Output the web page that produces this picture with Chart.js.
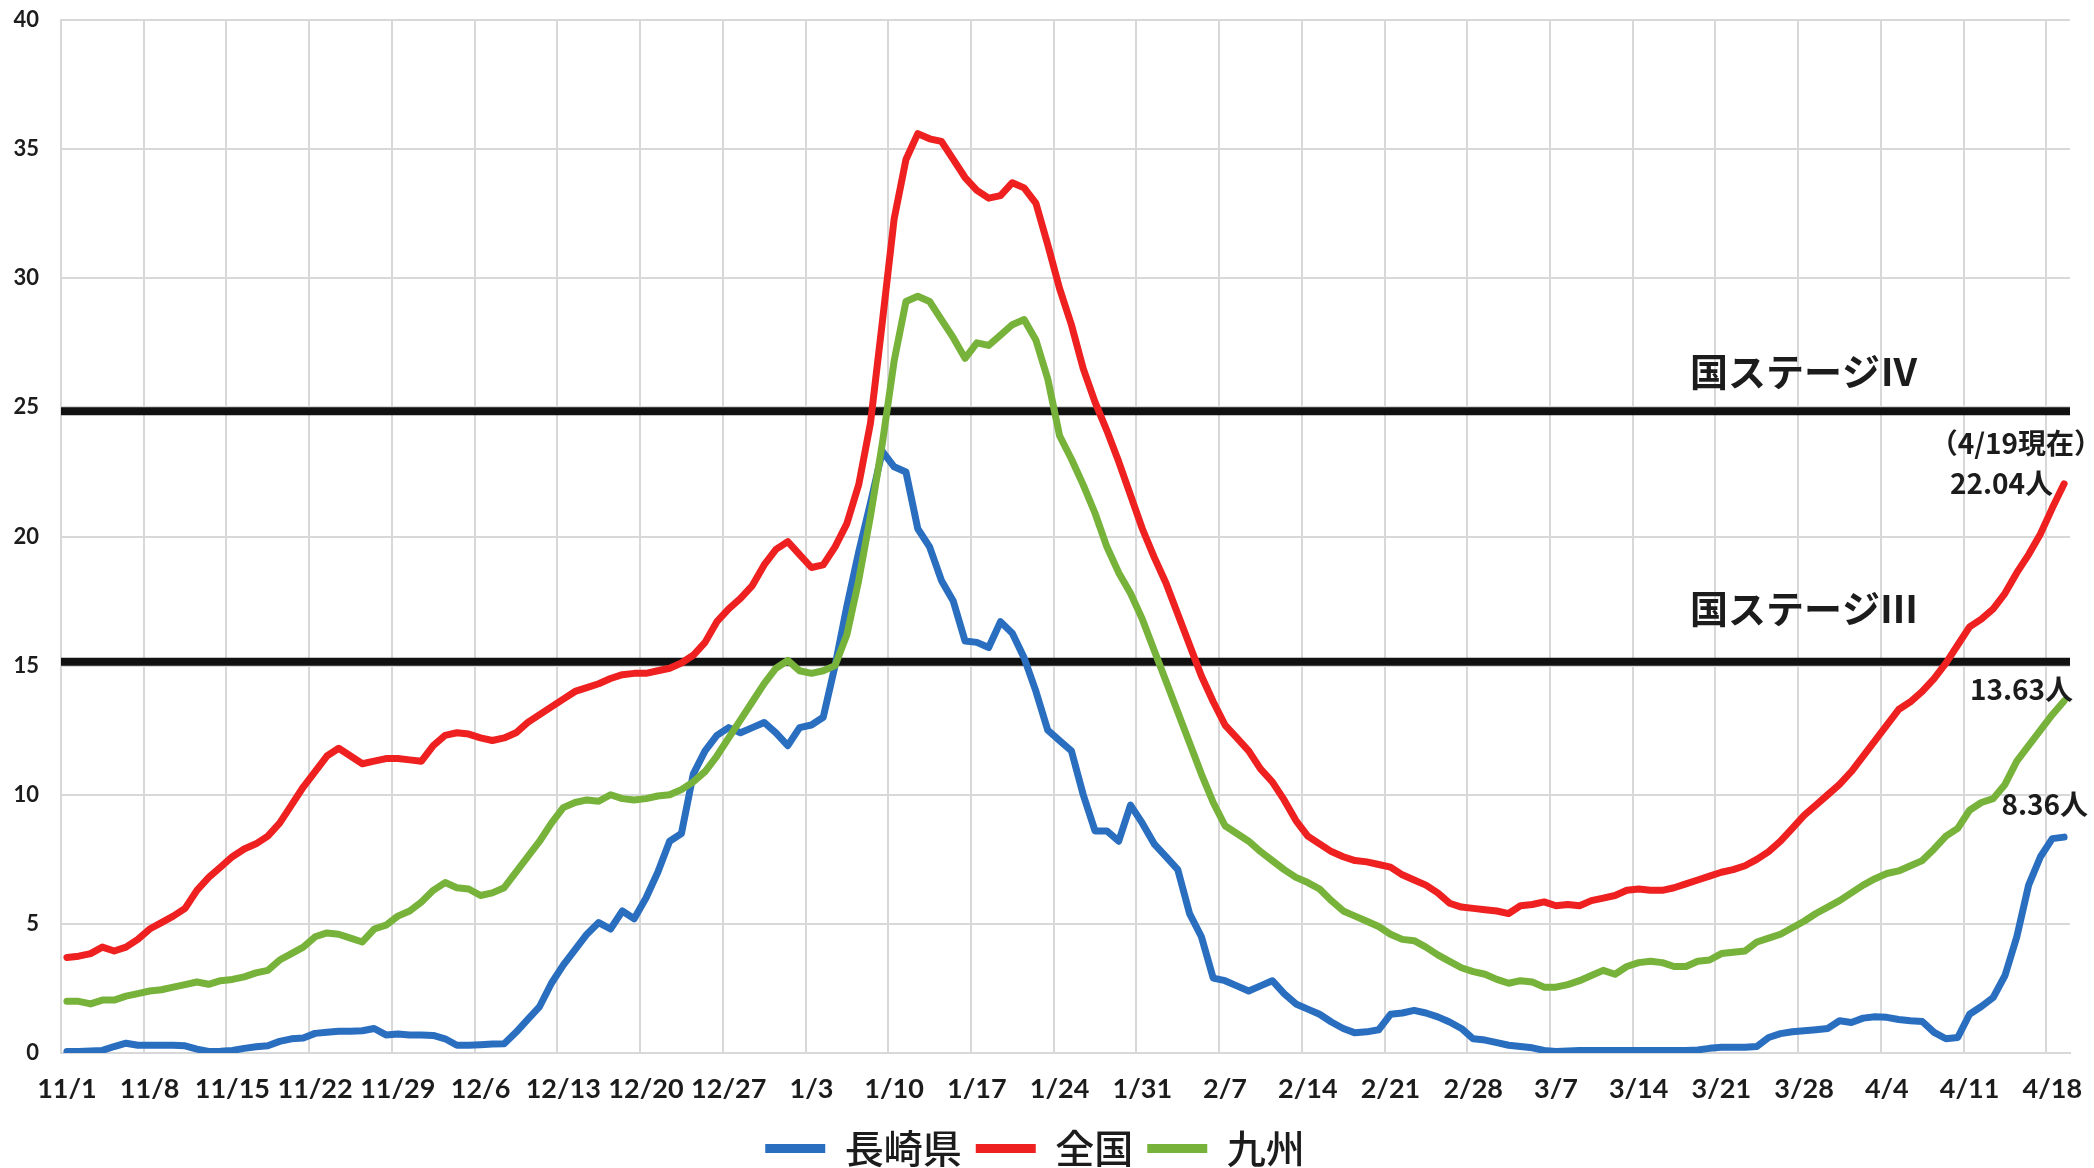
<!DOCTYPE html>
<html lang="ja">
<head>
<meta charset="utf-8">
<script src="https://cdn.jsdelivr.net/npm/chart.js@4.4.0/dist/chart.umd.min.js"></script>
<style>
  html, body { margin: 0; padding: 0; background: #ffffff; overflow: hidden; }
  #marco { width: 2094px; height: 1178px; }
</style>
</head>
<body>
<div id="marco"><canvas id="grafica"></canvas></div>
<script>
// fechas (11/1 - 4/19)
const fechas = [
  "11/1","11/2","11/3","11/4","11/5","11/6","11/7","11/8","11/9","11/10",
  "11/11","11/12","11/13","11/14","11/15","11/16","11/17","11/18","11/19","11/20",
  "11/21","11/22","11/23","11/24","11/25","11/26","11/27","11/28","11/29","11/30",
  "12/1","12/2","12/3","12/4","12/5","12/6","12/7","12/8","12/9","12/10",
  "12/11","12/12","12/13","12/14","12/15","12/16","12/17","12/18","12/19","12/20",
  "12/21","12/22","12/23","12/24","12/25","12/26","12/27","12/28","12/29","12/30","12/31",
  "1/1","1/2","1/3","1/4","1/5","1/6","1/7","1/8","1/9","1/10",
  "1/11","1/12","1/13","1/14","1/15","1/16","1/17","1/18","1/19","1/20",
  "1/21","1/22","1/23","1/24","1/25","1/26","1/27","1/28","1/29","1/30","1/31",
  "2/1","2/2","2/3","2/4","2/5","2/6","2/7","2/8","2/9","2/10",
  "2/11","2/12","2/13","2/14","2/15","2/16","2/17","2/18","2/19","2/20",
  "2/21","2/22","2/23","2/24","2/25","2/26","2/27","2/28",
  "3/1","3/2","3/3","3/4","3/5","3/6","3/7","3/8","3/9","3/10",
  "3/11","3/12","3/13","3/14","3/15","3/16","3/17","3/18","3/19","3/20",
  "3/21","3/22","3/23","3/24","3/25","3/26","3/27","3/28","3/29","3/30","3/31",
  "4/1","4/2","4/3","4/4","4/5","4/6","4/7","4/8","4/9","4/10",
  "4/11","4/12","4/13","4/14","4/15","4/16","4/17","4/18","4/19"
];

// etiquetas visibles del eje X
const etiquetasX = ["11/1","11/8","11/15","11/22","11/29","12/6","12/13","12/20","12/27",
  "1/3","1/10","1/17","1/24","1/31","2/7","2/14","2/21","2/28","3/7","3/14","3/21",
  "3/28","4/4","4/11","4/18"];

// valores del eje Y
const ticksY = [0, 5, 10, 15, 20, 25, 30, 35, 40];

// series
const nombres = ["長崎県", "全国", "九州"];

const nagasaki = [
  0.06, 0.06, 0.08, 0.1, 0.25, 0.38, 0.3, 0.3, 0.3, 0.3,
  0.28, 0.15, 0.06, 0.07, 0.1, 0.18, 0.24, 0.28, 0.45, 0.55,
  0.58, 0.76, 0.8, 0.84, 0.84, 0.86, 0.95, 0.7, 0.74, 0.7,
  0.7, 0.68, 0.55, 0.3, 0.3, 0.32, 0.35, 0.36, 0.8, 1.3,
  1.8, 2.7, 3.4, 4.0, 4.6, 5.05, 4.8, 5.5, 5.2, 6.0,
  7.0, 8.2, 8.5, 10.8, 11.7, 12.3, 12.6, 12.4, 12.6, 12.8,
  12.4, 11.9, 12.6, 12.7, 13.0, 15.0, 17.3, 19.4, 21.3, 23.3,
  22.7, 22.5, 20.3, 19.6, 18.3, 17.5, 15.95, 15.9, 15.7, 16.7,
  16.25, 15.3, 14.0, 12.5, 12.1, 11.7, 10.0, 8.6, 8.6, 8.2,
  9.6, 8.9, 8.1, 7.6, 7.1, 5.4, 4.5, 2.9, 2.8, 2.6,
  2.4, 2.6, 2.8, 2.3, 1.9, 1.7, 1.5, 1.2, 0.95, 0.78,
  0.82, 0.9, 1.5, 1.55, 1.65, 1.55, 1.4, 1.2, 0.95, 0.55,
  0.5, 0.4, 0.3, 0.25, 0.2, 0.1, 0.06, 0.08, 0.1, 0.1,
  0.1, 0.1, 0.1, 0.1, 0.1, 0.1, 0.1, 0.1, 0.12, 0.18,
  0.22, 0.22, 0.22, 0.25, 0.6, 0.75, 0.82, 0.86, 0.9, 0.95,
  1.25, 1.18, 1.35, 1.4, 1.38, 1.3, 1.25, 1.22, 0.8, 0.55,
  0.6, 1.5, 1.8, 2.15, 3.0, 4.5, 6.5, 7.6, 8.3, 8.36
];

const zenkoku = [
  3.7, 3.75, 3.85, 4.1, 3.95, 4.1, 4.4, 4.8, 5.05, 5.3,
  5.6, 6.3, 6.8, 7.2, 7.6, 7.9, 8.1, 8.4, 8.9, 9.6,
  10.3, 10.9, 11.5, 11.8, 11.5, 11.2, 11.3, 11.4, 11.4, 11.35,
  11.3, 11.9, 12.3, 12.4, 12.35, 12.2, 12.1, 12.2, 12.4, 12.8,
  13.1, 13.4, 13.7, 14.0, 14.15, 14.3, 14.5, 14.65, 14.7, 14.7,
  14.8, 14.9, 15.1, 15.4, 15.9, 16.7, 17.2, 17.6, 18.1, 18.9,
  19.5, 19.8, 19.3, 18.8, 18.9, 19.6, 20.5, 22.0, 24.4, 28.3,
  32.3, 34.6, 35.6, 35.4, 35.3, 34.6, 33.9, 33.4, 33.1, 33.2,
  33.7, 33.5, 32.9, 31.3, 29.6, 28.2, 26.5, 25.2, 24.1, 22.9,
  21.6, 20.3, 19.2, 18.2, 17.0, 15.8, 14.6, 13.6, 12.7, 12.2,
  11.7, 11.0, 10.5, 9.8, 9.0, 8.4, 8.1, 7.8, 7.6, 7.45,
  7.4, 7.3, 7.2, 6.9, 6.7, 6.5, 6.2, 5.8, 5.65, 5.6,
  5.55, 5.5, 5.4, 5.7, 5.75, 5.85, 5.7, 5.75, 5.7, 5.9,
  6.0, 6.1, 6.3, 6.35, 6.3, 6.3, 6.4, 6.55, 6.7, 6.85,
  7.0, 7.1, 7.25, 7.5, 7.8, 8.2, 8.7, 9.2, 9.6, 10.0,
  10.4, 10.9, 11.5, 12.1, 12.7, 13.3, 13.6, 14.0, 14.5, 15.1,
  15.8, 16.5, 16.8, 17.2, 17.8, 18.6, 19.3, 20.1, 21.1, 22.04
];

const kyushu = [
  2.0, 2.0, 1.9, 2.05, 2.05, 2.2, 2.3, 2.4, 2.45, 2.55,
  2.65, 2.75, 2.66, 2.8, 2.85, 2.95, 3.1, 3.2, 3.6, 3.85,
  4.1, 4.5, 4.65, 4.6, 4.45, 4.3, 4.8, 4.95, 5.3, 5.5,
  5.85, 6.3, 6.6, 6.4, 6.35, 6.1, 6.2, 6.4, 7.0, 7.6,
  8.2, 8.9, 9.5, 9.7, 9.8, 9.75, 10.0, 9.85, 9.8, 9.85,
  9.95, 10.0, 10.2, 10.5, 10.9, 11.5, 12.2, 12.9, 13.6, 14.3,
  14.9, 15.2, 14.8, 14.7, 14.8, 15.0, 16.2, 18.3, 20.8, 23.6,
  26.8, 29.1, 29.3, 29.1, 28.4, 27.7, 26.9, 27.5, 27.4, 27.8,
  28.2, 28.4, 27.6, 26.1, 23.9, 23.0, 22.0, 20.9, 19.6, 18.6,
  17.8, 16.8, 15.6, 14.4, 13.2, 12.0, 10.8, 9.7, 8.8, 8.5,
  8.2, 7.8, 7.45, 7.1, 6.8, 6.6, 6.35, 5.9, 5.5, 5.3,
  5.1, 4.9, 4.6, 4.4, 4.35, 4.1, 3.8, 3.55, 3.3, 3.15,
  3.05, 2.85, 2.7, 2.8, 2.75, 2.55, 2.55, 2.65, 2.8, 3.0,
  3.2, 3.05, 3.35, 3.5, 3.55, 3.5, 3.35, 3.35, 3.55, 3.6,
  3.85, 3.9, 3.95, 4.3, 4.45, 4.6, 4.85, 5.1, 5.4, 5.65,
  5.9, 6.2, 6.5, 6.75, 6.95, 7.05, 7.25, 7.45, 7.9, 8.4,
  8.7, 9.4, 9.7, 9.85, 10.4, 11.3, 11.9, 12.5, 13.1, 13.63
];

// lineas de referencia (ステージ), tal como aparecen en la imagen
const valoresEtapa = [24.85, 15.15];
const nombresEtapa = ["国ステージⅣ", "国ステージⅢ"];

// textos de los valores finales
const textoFecha = "（4/19現在）";
const textosFinales = ["8.36人", "22.04人", "13.63人"];

// ---- estilos ----
const colores = ["#2a6ec0", "#ee2020", "#77b23a"];
const fuenteNum = 'Lato, "Noto Sans", sans-serif';
const fuenteJp = '"Noto Sans CJK JP", sans-serif';
const colorRejilla = "#d8d8d8";
const colorTexto = "#1c1c1c";

// plugin: lineas de etapa y textos
const anotaciones = {
  id: "anotaciones",
  beforeDatasetsDraw(chart) {
    const { ctx, chartArea, scales } = chart;
    ctx.save();
    ctx.strokeStyle = "#111111";
    ctx.lineWidth = 8;
    valoresEtapa.forEach(v => {
      const py = scales.y.getPixelForValue(v);
      ctx.beginPath();
      ctx.moveTo(chartArea.left, py);
      ctx.lineTo(chartArea.right, py);
      ctx.stroke();
    });
    ctx.restore();
  },
  afterDatasetsDraw(chart) {
    const { ctx, scales } = chart;
    const { x, y } = scales;
    ctx.save();
    ctx.fillStyle = colorTexto;
    ctx.textBaseline = "middle";

    // nombres de etapa
    ctx.font = "bold 38px " + fuenteJp;
    ctx.textAlign = "center";
    const posEtapa = [26.4, 17.2];
    nombresEtapa.forEach((t, i) => {
      ctx.fillText(t, x.getPixelForValue(147), y.getPixelForValue(posEtapa[i]));
    });

    // valores del ultimo dia
    const ultimo = fechas.length - 1;
    const xf = x.getPixelForValue(ultimo);
    const series = [nagasaki, zenkoku, kyushu];
    const desp = [[24, -33], [-11, 0], [9, -12]];
    ctx.font = "bold 28px " + fuenteJp;
    ctx.textAlign = "right";
    series.forEach((s, i) => {
      ctx.fillText(textosFinales[i], xf + desp[i][0], y.getPixelForValue(s[ultimo]) + desp[i][1]);
    });
    ctx.fillText(textoFecha, xf + 38, y.getPixelForValue(zenkoku[ultimo]) - 40);
    ctx.restore();
  }
};

const series = [nagasaki, zenkoku, kyushu];

new Chart(document.getElementById("grafica"), {
  type: "line",
  data: {
    labels: fechas,
    datasets: series.map((s, i) => ({
      label: nombres[i],
      data: s,
      borderColor: colores[i],
      backgroundColor: colores[i],
      borderWidth: 7,
      pointRadius: 0,
      tension: 0,
      borderJoinStyle: "round",
      borderCapStyle: "round",
      order: 3 - i
    }))
  },
  options: {
    responsive: true,
    maintainAspectRatio: false,
    animation: false,
    layout: { padding: { left: 0, right: 24, top: 20, bottom: 0 } },
    plugins: {
      tooltip: { enabled: false },
      legend: {
        position: "bottom",
        labels: {
          boxWidth: 60,
          boxHeight: 9,
          padding: 14,
          color: colorTexto,
          font: { family: fuenteJp, size: 39, weight: "500" },
          sort: (a, b) => a.datasetIndex - b.datasetIndex,
          generateLabels(chart) {
            const items = Chart.defaults.plugins.legend.labels.generateLabels(chart);
            items.forEach(it => { it.lineWidth = 0; it.fillStyle = it.strokeStyle; });
            return items;
          }
        }
      }
    },
    scales: {
      x: {
        type: "category",
        offset: true,
        afterFit(scale) {
          scale.height = 62;
          scale.paddingLeft = 0;
          scale.paddingRight = 0;
        },
        grid: {
          offset: true,
          drawTicks: false,
          lineWidth: 2,
          color: c => (c.index !== undefined && c.index % 7 === 0) ? colorRejilla : "rgba(0,0,0,0)"
        },
        border: { color: colorRejilla, width: 2 },
        ticks: {
          autoSkip: false,
          maxRotation: 0,
          minRotation: 0,
          padding: 10,
          color: colorTexto,
          font: { family: fuenteNum, size: 27, weight: "bold", lineHeight: "52px" },
          callback(v, i) { return etiquetasX.includes(fechas[i]) ? fechas[i] : ""; }
        }
      },
      y: {
        min: 0,
        max: 40,
        afterBuildTicks(scale) { scale.ticks = ticksY.map(v => ({ value: v })); },
        afterFit(scale) {
          scale.width = 61;
          scale.paddingTop = 12;
          scale.paddingBottom = 12;
        },
        grid: { drawTicks: false, lineWidth: 2, color: colorRejilla },
        border: { color: colorRejilla, width: 2 },
        ticks: {
          padding: 22,
          color: colorTexto,
          font: { family: fuenteNum, size: 22, weight: "bold" }
        }
      }
    }
  },
  plugins: [anotaciones]
});
</script>
</body>
</html>
